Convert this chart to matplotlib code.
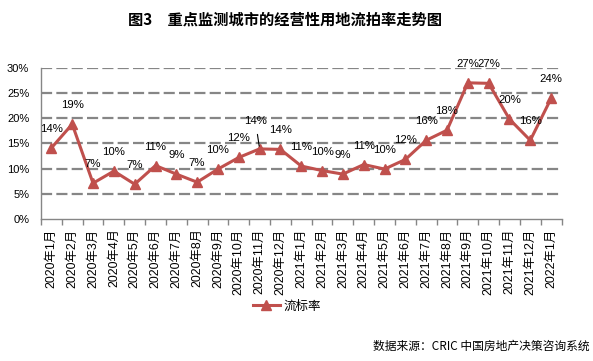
import matplotlib
matplotlib.use("Agg")
import matplotlib.pyplot as plt
import numpy as np

plt.rcParams['font.family'] = ['Liberation Sans', 'Noto Sans CJK SC', 'DejaVu Sans']

categories = ["2020年1月", "2020年2月", "2020年3月", "2020年4月", "2020年5月", "2020年6月",
              "2020年7月", "2020年8月", "2020年9月", "2020年10月", "2020年11月", "2020年12月",
              "2021年1月", "2021年2月", "2021年3月", "2021年4月", "2021年5月", "2021年6月",
              "2021年7月", "2021年8月", "2021年9月", "2021年10月", "2021年11月", "2021年12月",
              "2022年1月"]
values = [14.1, 18.8, 7.1, 9.5, 6.9, 10.6, 8.9, 7.3, 9.9, 12.2, 13.9, 13.8,
          10.5, 9.6, 8.9, 10.8, 9.9, 11.8, 15.6, 17.6, 27.0, 26.9, 19.8, 15.6, 23.9]
labels = ["14%", "19%", "7%", "10%", "7%", "11%", "9%", "7%", "10%", "12%", "14%", "14%",
          "11%", "10%", "9%", "11%", "10%", "12%", "16%", "18%", "27%", "27%", "20%", "16%", "24%"]
yticks = [0, 5, 10, 15, 20, 25, 30]
ytick_labels = ["0%", "5%", "10%", "15%", "20%", "25%", "30%"]
series_name = "流标率"
title = "图3\u3000重点监测城市的经营性用地流拍率走势图"
source = "数据来源：CRIC 中国房地产决策咨询系统"

W, H = 593, 361
fig = plt.figure(figsize=(W / 100, H / 100), dpi=100)
ax = fig.add_axes([41 / W, 1 - 219 / H, (561.5 - 41) / W, (219 - 67.7) / H])

red = "#C0504D"
grey = "#868686"
n = len(categories)
x = np.arange(n)

for yv in yticks[1:]:
    ax.axhline(yv, color=grey, lw=1.6, linestyle=(0, (5.0, 1.9)), zorder=1)

line, = ax.plot(x, values, color=red, lw=2.2, marker='^', markersize=6.5,
                markeredgecolor=red, markerfacecolor=red, zorder=3, label=series_name)

for i, (xv, yv, lab) in enumerate(zip(x, values, labels)):
    if i == 10:
        ax.annotate(lab, (xv, yv), xytext=(-3, 20), textcoords='offset points',
                    ha='center', va='center', fontsize=8.2, family=['Liberation Sans'],
                    arrowprops=dict(arrowstyle='-', color='black', lw=0.8,
                                    shrinkA=4, shrinkB=2))
    else:
        ax.annotate(lab, (xv, yv), xytext=(0, 13.7), textcoords='offset points',
                    ha='center', va='center', fontsize=8.2, family=['Liberation Sans'])

ax.set_xlim(-0.5, n - 0.5)
ax.set_ylim(0, 30)
ax.set_yticks(yticks)
ax.set_yticklabels(ytick_labels, fontsize=8)
ax.tick_params(axis='y', length=0, pad=8.5)

ax.set_xticks(x)
ax.set_xticklabels(categories, rotation=90, fontsize=8.9, va='top', ha='center')
ax.set_xticks(np.arange(-0.5, n, 1.0), minor=True)
ax.tick_params(axis='x', which='major', length=0, pad=6.8)
ax.tick_params(axis='x', which='minor', length=4, width=1, color=grey, direction='out')

for s in ['top', 'right']:
    ax.spines[s].set_visible(False)
for s in ['left', 'bottom']:
    ax.spines[s].set_color(grey)
    ax.spines[s].set_linewidth(1.0)

fig.text(285 / W, 1 - 19.5 / H, title, ha='center', va='center', fontsize=11,
         fontweight='bold', family=['Noto Sans CJK SC'])

leg = fig.legend(handles=[line], loc='center', bbox_to_anchor=(287 / W, 1 - 306 / H),
                 frameon=False, handlelength=2.2, handletextpad=0.3,
                 prop={'family': ['Noto Sans CJK SC'], 'size': 9})

fig.text(590 / W, 1 - 346 / H, source, ha='right', va='center', fontsize=8.5,
         family=['Noto Sans CJK SC'])

fig.savefig("out.png", dpi=100, facecolor='white')
